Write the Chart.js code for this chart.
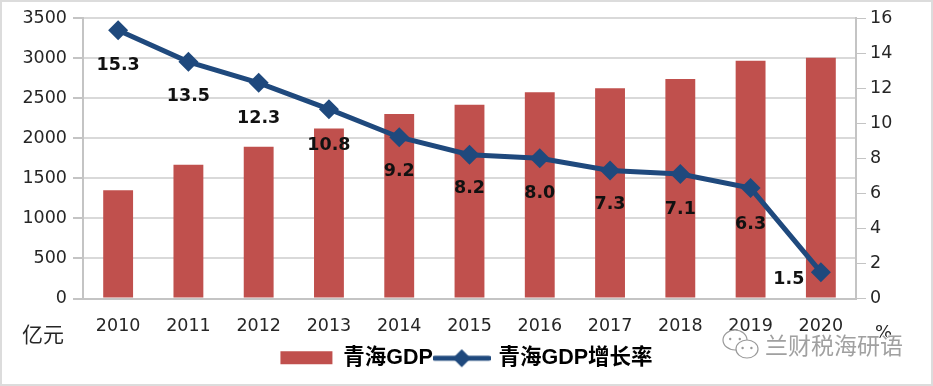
<!DOCTYPE html>
<html><head><meta charset="utf-8">
<script src="https://cdn.jsdelivr.net/npm/chart.js@4"></script>
<style>
html,body{margin:0;padding:0;background:#fff}
#wrap{position:relative;width:933px;height:386px;overflow:hidden}
#wrap:after{content:"";position:absolute;inset:0;border:2px solid #dcdcdc;pointer-events:none}
</style></head><body>
<div id="wrap"><canvas id="c" width="933" height="386"></canvas></div>
<script>
const years = ['2010','2011','2012','2013','2014','2015','2016','2017','2018','2019','2020'];
const gdp = [1350,1670,1893,2120,2303,2417,2572,2625,2740,2966,3005];
const growth = [15.3,13.5,12.3,10.8,9.2,8.2,8.0,7.3,7.1,6.3,1.5];
const growthLabels = ['15.3','13.5','12.3','10.8','9.2','8.2','8.0','7.3','7.1','6.3','1.5'];
const labelDx = [0,0,0,0,0,0,0,0,0,0,-32];
const labelDy = [35,35,36,36,34,34,35,34,35,36,7];
const barName = '青海GDP', lineName = '青海GDP增长率';
const unitLeft = '亿元', unitRight = '%', watermark = '兰财税海研语';

const BAR='#C0504D', LINE='#1F497D', GRID='#d9d9d9', AXIS='#c4c4c4', TEXT='#262626';
const TICK_FONT={family:'"DejaVu Sans"',size:17.5};

function swatch(kind){
  const c=document.createElement('canvas');c.width=58;c.height=22;
  const x=c.getContext('2d');
  if(kind==='bar'){x.fillStyle=BAR;x.fillRect(3,4,52,13);}
  else{x.strokeStyle=LINE;x.lineWidth=5;x.lineCap='round';x.beginPath();x.moveTo(2,11);x.lineTo(56,11);x.stroke();
    x.fillStyle=LINE;x.beginPath();x.moveTo(29,2);x.lineTo(38,11);x.lineTo(29,20);x.lineTo(20,11);x.closePath();x.fill();}
  return c;
}
const swatches=[swatch('bar'),swatch('line')];

const overlay={id:'overlay',
  afterDatasetsDraw(ch){
    const ctx=ch.ctx,pts=ch.getDatasetMeta(1).data;
    ctx.save();ctx.font='bold 17.5px "DejaVu Sans"';ctx.fillStyle='#111';ctx.textAlign='center';ctx.textBaseline='middle';
    pts.forEach((p,i)=>ctx.fillText(growthLabels[i],p.x+labelDx[i],p.y+labelDy[i]));
    ctx.restore();
  },
  afterDraw(ch){
    const ctx=ch.ctx;ctx.save();
    ctx.fillStyle=TEXT;ctx.textBaseline='middle';ctx.textAlign='left';
    ctx.font='21px "Noto Sans CJK SC"';ctx.fillText(unitLeft,22,334);
    ctx.font='18px "DejaVu Sans"';ctx.fillText(unitRight,875,333);
    const bubble=(x,y,rx,ry)=>{ctx.beginPath();ctx.ellipse(x,y,rx,ry,0,0,Math.PI*2);ctx.fillStyle='#fff';ctx.fill();ctx.strokeStyle='#9a9a9a';ctx.lineWidth=1.2;ctx.stroke();
      ctx.fillStyle='#9a9a9a';[-.4,.4].forEach(k=>{ctx.beginPath();ctx.arc(x+k*rx,y-1,1.2,0,Math.PI*2);ctx.fill();});};
    bubble(735,340,12,10);bubble(747,349,11,9);
    ctx.fillStyle='#a0a0a0';ctx.font='23px "Noto Sans CJK SC"';ctx.textBaseline='middle';
    ctx.lineWidth=1.5;ctx.strokeStyle='#fff';ctx.strokeText(watermark,765,345);ctx.fillText(watermark,765,345);
    ctx.restore();
  }};

new Chart(document.getElementById('c'),{
  data:{labels:years,datasets:[
    {type:'bar',label:barName,data:gdp,yAxisID:'y',backgroundColor:BAR,barPercentage:.425,categoryPercentage:1,order:2},
    {type:'line',label:lineName,data:growth,yAxisID:'y1',borderColor:LINE,backgroundColor:LINE,borderWidth:5,tension:0,
     pointStyle:'rectRot',pointRadius:10,pointBackgroundColor:LINE,pointBorderColor:LINE,pointBorderWidth:0,order:1}
  ]},
  options:{responsive:false,animation:false,
    layout:{padding:{top:18,left:0,right:0,bottom:7}},
    plugins:{tooltip:{enabled:false},
      legend:{position:'bottom',labels:{usePointStyle:true,pointStyleWidth:52,boxHeight:20,padding:3,color:'#111',
        font:{family:'"Liberation Sans","Noto Sans CJK SC"',size:21.5,weight:'bold'},
        generateLabels(ch){return ch.data.datasets.map((d,i)=>({text:d.label,pointStyle:swatches[i],fillStyle:'transparent',strokeStyle:'transparent',lineWidth:0,datasetIndex:i}));}}}},
    scales:{
      x:{grid:{display:false},border:{color:AXIS,width:2},
         ticks:{color:TEXT,font:TICK_FONT,padding:9,maxRotation:0,autoSkip:false},
         afterFit(s){s.height=46;}},
      y:{position:'left',min:0,max:3500,
         grid:{color:GRID,lineWidth:2,tickColor:AXIS,tickLength:10},border:{color:AXIS,width:2},
         ticks:{stepSize:500,color:TEXT,font:TICK_FONT,padding:6,callback:v=>String(v)},
         afterFit(s){s.width=83;}},
      y1:{position:'right',min:0,max:16,
         grid:{drawOnChartArea:false,tickColor:AXIS,tickLength:10},border:{color:AXIS,width:2},
         ticks:{stepSize:2,color:TEXT,font:TICK_FONT,padding:4},
         afterFit(s){s.width=77;}}
    }},
  plugins:[overlay]
});
</script></body></html>
